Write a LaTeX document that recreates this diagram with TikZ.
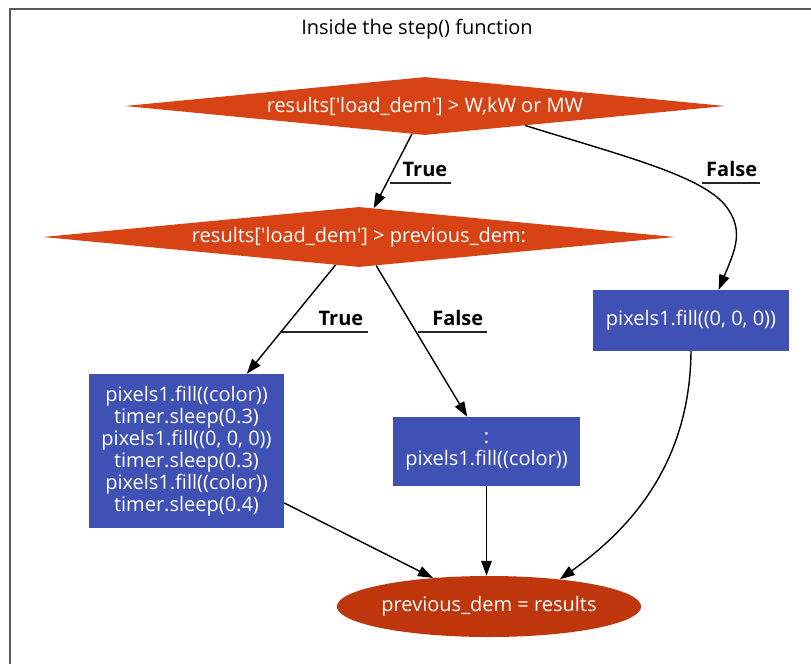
\documentclass[tikz,border=0pt]{standalone}
\usepackage{fontspec}
\setmainfont{Open Sans}
\usetikzlibrary{shapes.geometric,arrows.meta,calc}
\definecolor{diacol}{HTML}{D84315}
\definecolor{ellcol}{HTML}{BF360C}
\definecolor{boxcol}{HTML}{3F51B5}
\newcommand\myfs{\fontsize{20}{22}\selectfont}
\begin{document}
\begin{tikzpicture}[x=1pt,y=-1pt,
  decision/.style={shape=diamond, fill=diacol, text=white, inner sep=0pt, shape aspect=12, font=\myfs},
  actbox/.style={rectangle, fill=boxcol, text=white, align=center, inner sep=0pt, font=\myfs},
  endell/.style={ellipse, fill=ellcol, text=white, inner sep=0pt, font=\myfs},
  edgelbl/.style={font=\myfs\bfseries, inner xsep=4pt, inner ysep=0pt, align=right, anchor=south west, minimum height=27pt},
  uline/.style={line width=1.3pt, black!85},
  arr/.style={line width=1.4pt, -{Triangle[length=15pt,width=10.5pt]}}
]
\fill[white] (0,0) rectangle (811,664);
\useasboundingbox (0,0) rectangle (811,664);
\draw[line width=1.6pt, black!65] (10,664) -- (10,9) -- (811,9);

\node[font=\myfs] (title) at (417,29.5) {Inside the step() function};

\node[decision, minimum width=600pt, minimum height=58pt] (d1) at (425,106)
  {results[\textquotesingle load\_dem\textquotesingle] > W,kW or MW};
\node[decision, minimum width=632pt, minimum height=60pt] (d2) at (359,237)
  {results[\textquotesingle load\_dem\textquotesingle] > previous\_dem:};
\node[actbox, minimum width=196pt, minimum height=61pt] (rb) at (691,320.5)
  {pixels1.fill((0, 0, 0))};
\node[actbox, minimum width=195pt, minimum height=154pt] (lb) at (186.5,451)
  {pixels1.fill((color))\\timer.sleep(0.3)\\pixels1.fill((0, 0, 0))\\timer.sleep(0.3)\\pixels1.fill((color))\\timer.sleep(0.4)};
\node[actbox, minimum width=187pt, minimum height=69pt] (mb) at (486.5,451.5)
  {:\\pixels1.fill((color))};
\node[endell, minimum width=302pt, minimum height=61pt] (el) at (489,606.5)
  {previous\_dem = results};

% edges
\draw[arr] (d1.245) -- (d2.63.4);
\draw[arr] (d1.-11) .. controls (620,155) and (700,175) .. (725,205)
  .. controls (745,230) and (735,250) .. (rb.48.5);
\draw[arr] (d2.230.4) -- (lb.52.8);
\draw[arr] (d2.301.8) -- (mb.119.5);
\draw[arr] (lb.-28.07) -- (el.153);
\draw[arr] (mb) -- (mb |- el.north);
\draw[arr] (rb.south) .. controls (690,470) and (623,534) .. (el.21);

% edge labels
\node[edgelbl, text width=53pt] (t1) at (390,183) {True};
\draw[uline] (t1.south west) -- (t1.south east);
\node[edgelbl, text width=50pt] (f1) at (702,183) {False};
\draw[uline] (f1.south west) -- (f1.south east);
\node[edgelbl, inner xsep=5pt, text width=78pt] (t2) at (280,332) {True};
\draw[uline] (t2.south west) -- (t2.south east);
\node[edgelbl, text width=61pt] (f2) at (418,332) {False};
\draw[uline] (f2.south west) -- (f2.south east);
\end{tikzpicture}
\end{document}
